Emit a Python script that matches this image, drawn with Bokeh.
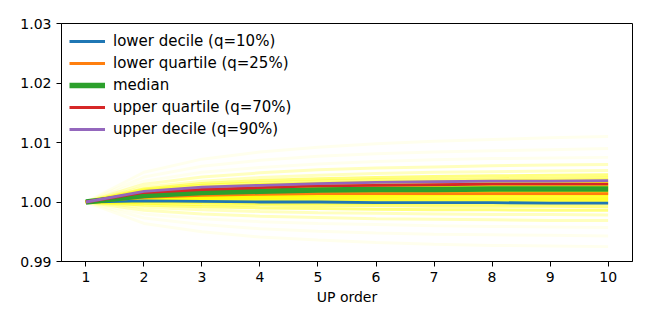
from bokeh.plotting import figure
from bokeh.models import Range1d, FixedTicker, NumeralTickFormatter, ColumnDataSource, Legend, LegendItem
from bokeh.embed import file_html
from bokeh.resources import INLINE

up_order = [1, 2, 3, 4, 5, 6, 7, 8, 9, 10]

lower_decile   = [1.0000, 1.0002, 1.0001, 1.0000, 1.0000, 0.9999, 0.9999, 0.9999, 0.9998, 0.9998]
lower_quartile = [1.0000, 1.0008, 1.0011, 1.0013, 1.0014, 1.0014, 1.0014, 1.0014, 1.0014, 1.0014]
median         = [1.0000, 1.0011, 1.0016, 1.0018, 1.0020, 1.0021, 1.0021, 1.0022, 1.0022, 1.0022]
upper_quartile = [1.0000, 1.0016, 1.0021, 1.0024, 1.0027, 1.0028, 1.0029, 1.0030, 1.0030, 1.0030]
upper_decile   = [1.0000, 1.0018, 1.0025, 1.0028, 1.0031, 1.0033, 1.0034, 1.0035, 1.0035, 1.0036]

# individual runs (offsets from 1.0, in units of 1e-4)
runs_offset_e4 = [
    [0, 50, 72, 84, 92, 98, 102, 105, 108, 110],
    [0, 42, 60, 70, 77, 81, 84, 86, 88, 90],
    [0, 35, 50, 58, 64, 68, 71, 73, 74, 75],
    [0, 30, 42, 49, 54, 57, 59, 61, 62, 63],
    [0, 25, 35, 41, 45, 48, 50, 51, 52, 53],
    [0, 22, 31, 36, 39, 41, 43, 44, 45, 46],
    [0, 20, 28, 32, 35, 37, 38, 39, 40, 41],
    [0, 18, 25, 29, 31, 33, 34, 35, 36, 37],
    [0, 17, 24, 28, 30, 32, 33, 34, 34, 35],
    [0, 16, 23, 27, 29, 30, 31, 32, 33, 33],
    [0, 16, 22, 26, 28, 29, 30, 31, 31, 32],
    [0, 15, 21, 25, 27, 28, 29, 30, 30, 31],
    [0, 15, 21, 24, 26, 27, 28, 29, 29, 30],
    [0, 14, 20, 23, 25, 26, 27, 28, 28, 29],
    [0, 14, 19, 22, 24, 25, 26, 27, 27, 28],
    [0, 13, 18, 21, 23, 24, 25, 26, 26, 27],
    [0, 13, 17, 20, 22, 23, 24, 25, 25, 26],
    [0, 12, 17, 19, 21, 22, 23, 24, 24, 25],
    [0, 12, 16, 19, 20, 21, 22, 23, 23, 24],
    [0, 11, 15, 18, 19, 20, 21, 22, 22, 23],
    [0, 11, 15, 17, 19, 20, 21, 21, 22, 22],
    [0, 10, 14, 16, 18, 19, 20, 20, 21, 21],
    [0, 10, 14, 16, 17, 18, 19, 19, 20, 20],
    [0, 9, 13, 15, 16, 17, 18, 18, 19, 19],
    [0, 9, 12, 14, 15, 16, 17, 17, 18, 18],
    [0, 8, 11, 13, 14, 15, 16, 16, 17, 17],
    [0, 8, 11, 13, 14, 15, 15, 16, 16, 16],
    [0, 7, 10, 12, 13, 14, 14, 15, 15, 15],
    [0, 7, 10, 11, 12, 13, 13, 14, 14, 14],
    [0, 6, 9, 10, 11, 12, 12, 13, 13, 13],
    [0, 6, 8, 10, 11, 11, 12, 12, 12, 12],
    [0, 5, 7, 8, 9, 9, 10, 10, 10, 10],
    [0, 4, 6, 7, 7, 8, 8, 8, 8, 8],
    [0, 3, 5, 5, 6, 6, 6, 6, 6, 6],
    [0, 3, 4, 4, 4, 4, 4, 4, 4, 4],
    [0, 2, 2, 2, 2, 2, 2, 2, 2, 2],
    [0, 1, 1, 0, 0, 0, 0, 0, 0, 0],
    [0, 0, -1, -2, -2, -2, -3, -3, -3, -3],
    [0, -2, -4, -5, -6, -6, -7, -7, -7, -8],
    [0, -5, -8, -10, -11, -12, -13, -13, -14, -14],
    [0, -9, -13, -16, -18, -19, -20, -21, -21, -22],
    [0, -14, -20, -24, -26, -28, -29, -30, -31, -31],
    [0, -20, -28, -33, -36, -38, -40, -41, -42, -43],
    [0, -27, -38, -45, -49, -52, -54, -55, -56, -57],
    [0, -36, -50, -59, -64, -68, -71, -73, -74, -75],
]

y_ticks = [0.99, 1.00, 1.01, 1.02, 1.03]
x_ticks = [1, 2, 3, 4, 5, 6, 7, 8, 9, 10]

p = figure(width=640, height=316, output_backend="svg", toolbar_location=None,
           x_range=Range1d(0.58, 10.42), y_range=Range1d(0.99, 1.03),
           min_border_left=61, min_border_right=8, min_border_top=23, min_border_bottom=55)
p.background_fill_color = "white"
p.border_fill_color = "white"
p.grid.visible = False
p.outline_line_color = "black"
p.outline_line_width = 1

# faint yellow runs
xs, ys, alphas = [], [], []
for run in runs_offset_e4:
    xs.append(up_order)
    ys.append([1.0 + v * 1e-4 for v in run])
    end = run[-1]
    if -14 <= end <= 46:
        alphas.append(0.5)
    elif -31 <= end <= 63:
        alphas.append(0.25)
    else:
        alphas.append(0.07)
src = ColumnDataSource(dict(xs=xs, ys=ys, a=alphas))
p.multi_line("xs", "ys", source=src, line_color="#ffff00", line_alpha="a", line_width=3)

series = [
    ("lower decile (q=10%)", lower_decile, "#1f77b4", 2.8),
    ("lower quartile (q=25%)", lower_quartile, "#ff7f0e", 2.8),
    ("median", median, "#2ca02c", 5.5),
    ("upper quartile (q=70%)", upper_quartile, "#d62728", 2.8),
    ("upper decile (q=90%)", upper_decile, "#9467bd", 2.8),
]
items = []
for label, vals, color, w in series:
    r = p.line(up_order, vals, line_color=color, line_width=w)
    items.append(LegendItem(label=label, renderers=[r]))

legend = Legend(items=items, location="top_left")
p.add_layout(legend)
legend.label_text_font = "DejaVu Sans"
legend.label_text_font_size = "15px"
legend.label_text_color = "black"
legend.glyph_width = 36
legend.glyph_height = 20
legend.label_height = 20
legend.spacing = 2
legend.label_standoff = 8
legend.margin = 8
legend.padding = 12
legend.border_line_color = None
legend.background_fill_color = "white"
legend.background_fill_alpha = 0.8

for ax in (p.xaxis[0], p.yaxis[0]):
    ax.axis_line_color = "black"
    ax.major_tick_line_color = "black"
    ax.major_tick_out = 5
    ax.major_tick_in = 0
    ax.minor_tick_line_color = None
    ax.major_label_text_font = "DejaVu Sans"
    ax.major_label_text_font_size = "14px"
    ax.major_label_text_color = "black"

p.xaxis.ticker = FixedTicker(ticks=x_ticks)
p.yaxis.ticker = FixedTicker(ticks=y_ticks)
p.yaxis.formatter = NumeralTickFormatter(format="0.00")
p.xaxis.axis_label = "UP order"
p.xaxis.axis_label_text_font = "DejaVu Sans"
p.xaxis.axis_label_text_font_size = "14px"
p.xaxis.axis_label_text_font_style = "normal"
p.xaxis.axis_label_text_color = "black"
p.xaxis.axis_label_standoff = 4

open("out.html", "w").write(file_html(p, INLINE))
